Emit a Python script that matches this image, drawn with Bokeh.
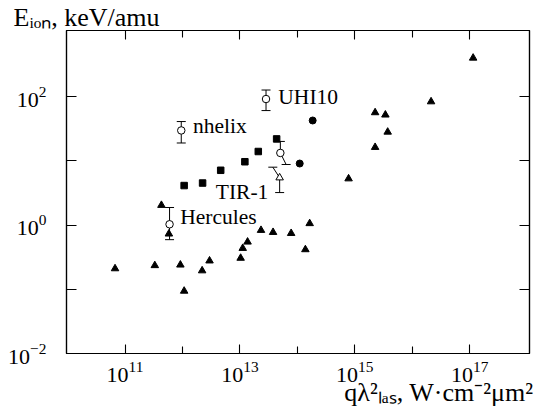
from bokeh.plotting import figure
from bokeh.models import ColumnDataSource, FixedTicker, LogAxis, Range1d, CustomJSTickFormatter, Title
from bokeh.embed import file_html
from bokeh.resources import INLINE
from bokeh.core.properties import value

# ---------------- data ----------------
tri_x = [6.7e10, 3.3e11, 4.3e11, 5.8e11, 9.2e11, 1.07e12, 2.2e12, 2.96e12, 1.03e13, 1.12e13,
         1.36e13, 2.33e13, 3.78e13, 7.8e13, 1.38e14, 1.64e14, 7.8e14, 2.26e15, 2.26e15, 3.41e15,
         3.74e15, 2.13e16, 1.15e17]
tri_y = [0.21, 0.235, 2.04, 0.73, 0.24, 0.094, 0.195, 0.278, 0.306, 0.436,
         0.547, 0.832, 0.773, 0.745, 0.416, 1.06, 5.28, 16.3, 56.6, 52.1,
         28.2, 83.7, 401.0]

sq_x = [1.07e12, 2.24e12, 4.63e12, 1.22e13, 2.09e13, 4.36e13]
sq_y = [4.13, 4.52, 7.14, 9.70, 14.0, 22.0]

dot_x = [1.85e14, 1.10e14]
dot_y = [42.6, 9.10]

err_label = ["nhelix", "UHI10", "", "Hercules", "TIR-1"]
err_marker = ["circle", "circle", "circle", "circle", "triangle"]
err_x = [9.53e11, 2.85e13, 5.06e13, 5.96e11, 4.92e13]
err_y = [29.8, 92.0, 13.3, 1.03, 5.47]
err_hi = [41.0, 127.0, 20.1, 1.88, 7.98]
err_lo = [19.0, 60.8, 8.79, 0.593, 3.21]
err_hi_cap_x = [9.53e11, 2.85e13, 5.06e13, 5.96e11, 3.74e13]
err_lo_cap_x = [9.53e11, 2.85e13, 6.38e13, 5.96e11, 4.92e13]

x_major = [1e11, 1e13, 1e15, 1e17]
x_minor = [1e12, 1e14, 1e16]
y_major = [1e-2, 1e0, 1e2]
y_minor = [1e-1, 1e1]

y_title = "E\u1d62\u2092\u2099, keV/amu"
x_title = "q\u03bb\u00b2\u2097\u2090\u209b, W\u00b7cm\u207b\u00b2\u03bcm\u00b2"

FONT = "Liberation Serif"

p = figure(width=547, height=419, x_axis_type="log", y_axis_type="log",
           x_range=Range1d(10**9.981, 10**18.042), y_range=Range1d(1e-2, 10**3.031),
           output_backend="svg", toolbar_location=None,
           min_border_left=66, min_border_right=18, min_border_top=30, min_border_bottom=66)
p.grid.visible = False
p.outline_line_color = "black"
p.outline_line_width = 1.2
p.background_fill_color = "white"
p.border_fill_color = "white"


def style_axis(ax, ticks, minor, major_in, minor_in, labels, standoff=0):
    ax.ticker = FixedTicker(ticks=ticks, minor_ticks=minor)
    if not labels:
        ax.formatter = CustomJSTickFormatter(code="return ''")
        ax.major_label_text_font_size = "1px"
    else:
        ax.major_label_text_font = FONT
        ax.major_label_text_font_size = "22px"
        ax.major_label_text_color = "black"
    ax.major_tick_in = major_in
    ax.major_tick_out = 0
    ax.minor_tick_in = minor_in
    ax.minor_tick_out = 0
    ax.major_label_standoff = standoff
    ax.axis_line_color = "black"
    ax.axis_line_width = 1.2
    ax.major_tick_line_color = "black"
    ax.minor_tick_line_color = "black"
    ax.major_tick_line_width = 1.1
    ax.minor_tick_line_width = 1.1


style_axis(p.xaxis[0], x_major, x_minor, 9, 7, True, standoff=8)
style_axis(p.yaxis[0], y_major, y_minor, 10, 10, True, standoff=20)
top = LogAxis()
p.add_layout(top, "above")
style_axis(top, x_major, x_minor, 9, 7, False)
right = LogAxis()
p.add_layout(right, "right")
style_axis(right, y_major, y_minor, 10, 10, False)

# axis titles
p.add_layout(Title(text=y_title, align="left", offset=-53, standoff=-2,
                   text_font=FONT, text_font_size="26px", text_font_style="normal",
                   text_color="black"), "above")
p.add_layout(Title(text=x_title, align="right", offset=-4, standoff=-18,
                   text_font=FONT, text_font_size="26px", text_font_style="normal",
                   text_color="black"), "below")

# ---------------- marks ----------------
p.scatter(tri_x, tri_y, marker="triangle", size=7.5, color="black")
p.scatter(sq_x, sq_y, marker="square", size=6.5, color="black")
p.scatter(dot_x, dot_y, marker="circle", size=7, color="black")

p.segment(x0=err_x, y0=err_y, x1=err_hi_cap_x, y1=err_hi, line_color="black", line_width=1)
p.segment(x0=err_x, y0=err_y, x1=err_lo_cap_x, y1=err_lo, line_color="black", line_width=1)
p.scatter(err_hi_cap_x, err_hi, marker="dash", size=9, line_color="black", line_width=1)
p.scatter(err_lo_cap_x, err_lo, marker="dash", size=9, line_color="black", line_width=1)
src_err = ColumnDataSource(dict(x=err_x, y=err_y, m=err_marker))
p.scatter("x", "y", source=src_err, marker="m", size=7.5, fill_color="white",
          line_color="black", line_width=1)

# point labels (offsets in screen px from the data point)
offsets = {"nhelix": (11.7, -4.7, "left"), "UHI10": (12.3, -1.7, "left"),
           "Hercules": (10.7, -7.3, "left"), "TIR-1": (-11.3, 14.0, "right")}
for align in ("left", "right"):
    rows = [i for i, t in enumerate(err_label) if t and offsets[t][2] == align]
    src = ColumnDataSource(dict(
        x=[err_x[i] for i in rows], y=[err_y[i] for i in rows],
        t=[err_label[i] for i in rows],
        dx=[offsets[err_label[i]][0] for i in rows],
        dy=[offsets[err_label[i]][1] for i in rows]))
    p.text("x", "y", text="t", x_offset="dx", y_offset="dy", source=src,
           text_font=value(FONT), text_font_size=value("21.5px"), text_color="black",
           text_align=align, text_baseline="alphabetic")

open("out.html", "w").write(file_html(p, INLINE))
